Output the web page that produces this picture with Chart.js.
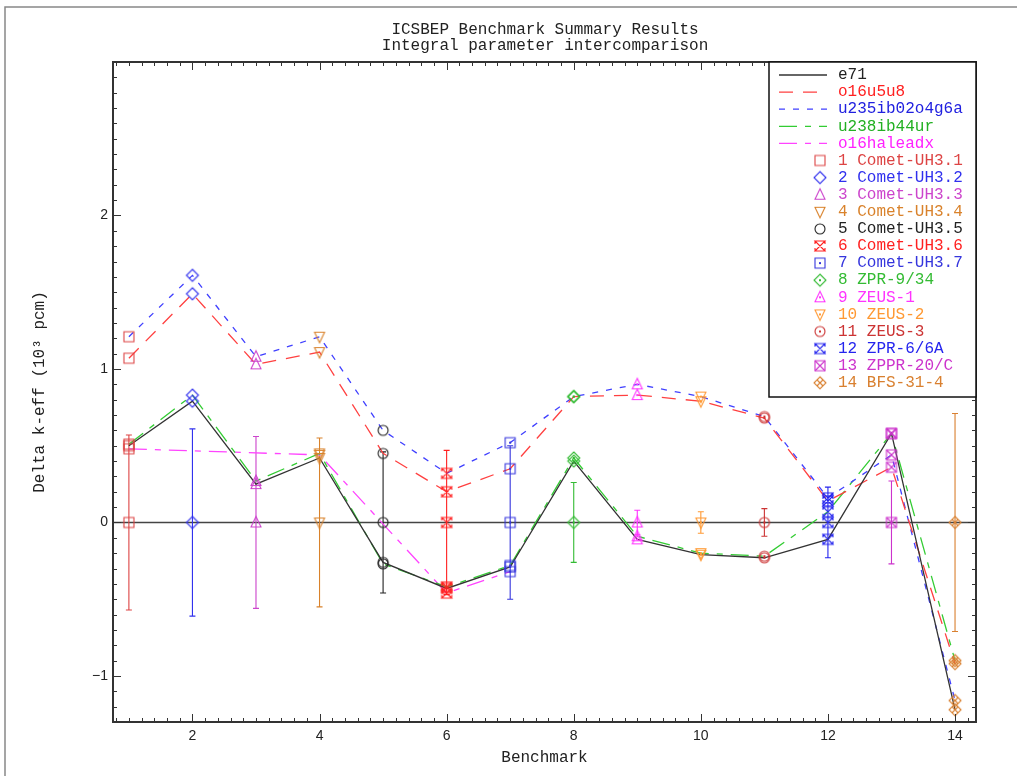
<!DOCTYPE html>
<html>
<head>
<meta charset="utf-8">
<title>ICSBEP Benchmark Summary Results</title>
<script src="https://cdn.jsdelivr.net/npm/chart.js@4.4.1/dist/chart.umd.min.js"></script>
<style>
  html, body { margin: 0; padding: 0; background: #fff; }
  #wrap { width: 1017px; height: 776px; position: relative; }
</style>
</head>
<body>
<div id="wrap"><canvas id="chart"></canvas></div>
<script>
// Benchmarks (x = index 1..14)
const benchX = [1, 2, 3, 4, 5, 6, 7, 8, 9, 10, 11, 12, 13, 14];
const benchNames = ['Comet-UH3.1', 'Comet-UH3.2', 'Comet-UH3.3', 'Comet-UH3.4', 'Comet-UH3.5',
    'Comet-UH3.6', 'Comet-UH3.7', 'ZPR-9/34', 'ZEUS-1', 'ZEUS-2', 'ZEUS-3', 'ZPR-6/6A',
    'ZPPR-20/C', 'BFS-31-4'];
const benchColors = ['#dd4444', '#3030ee', '#cc44cc', '#d9822b', '#222222', '#ff2020', '#3535dd',
    '#33bb33', '#ff33ff', '#ff9933', '#cc3333', '#2424ee', '#cc33cc', '#d98030'];
const benchShapes = ['square', 'diamond', 'triangle', 'itriangle', 'circle', 'hourglass', 'squareDot',
    'diamondDot', 'triangleDot', 'itriangleDot', 'circleDot', 'hourglass', 'squareX', 'diamondPlus'];

// Experimental uncertainty (10^3 pcm), experiment plotted at 0
const expUnc = [0.57, 0.61, 0.56, 0.55, 0.46, 0.47, 0.50, 0.26, 0.08, 0.07, 0.09, 0.23, 0.27, 0.71];

// Calculated - experiment for each library (10^3 pcm)
const e71        = [0.50, 0.79, 0.25, 0.42, -0.26, -0.43, -0.29, 0.40, -0.11, -0.21, -0.23, -0.11, 0.58, -1.22];
const o16u5u8    = [1.07, 1.49, 1.03, 1.11, 0.45, 0.20, 0.35, 0.82, 0.83, 0.79, 0.68, 0.14, 0.36, -0.92];
const u235ib     = [1.21, 1.61, 1.08, 1.21, 0.60, 0.32, 0.52, 0.82, 0.90, 0.82, 0.69, 0.16, 0.44, -1.16];
const u238ib     = [0.51, 0.83, 0.27, 0.45, -0.27, -0.42, -0.28, 0.42, -0.09, -0.20, -0.22, 0.07, 0.58, -0.90];
const o16haleadx = [0.48, null, null, 0.44, null, -0.46, -0.32, null, null, null, null, null, null, null];

const libNames  = ['e71', 'o16u5u8', 'u235ib02o4g6a', 'u238ib44ur', 'o16haleadx'];
const libValues = [e71, o16u5u8, u235ib, u238ib, o16haleadx];
const libColors = ['#333333', '#ff4040', '#4040ff', '#33cc33', '#ff44ff'];
const libText   = ['#222222', '#ff2020', '#2020e0', '#22b022', '#ff22ff'];
const libDash   = [[], [14, 10], [6, 8], [18, 8, 6, 8], [18, 8, 6, 8]];

const xTicks = [2, 4, 6, 8, 10, 12, 14];
const yTicks = [-1, 0, 1, 2];

const MONO = '"Liberation Mono", "DejaVu Sans Mono", monospace';

// draw a marker into a small canvas so Chart.js can use it as pointStyle
function makeMarker(shape, color) {
    const c = document.createElement('canvas');
    c.width = 16; c.height = 16;
    const g = c.getContext('2d');
    g.strokeStyle = color;
    g.fillStyle = color;
    g.lineWidth = 1.1;
    g.translate(8, 8);
    const r = 5;
    const base = shape.replace(/Dot|X|Plus/, '');
    g.beginPath();
    if (base === 'square') {
        g.rect(-r, -r, 2 * r, 2 * r);
    } else if (base === 'diamond') {
        g.moveTo(0, -r - 1); g.lineTo(r + 1, 0); g.lineTo(0, r + 1); g.lineTo(-r - 1, 0); g.closePath();
    } else if (base === 'triangle') {
        g.moveTo(0, -r - 1); g.lineTo(r, r - 0.5); g.lineTo(-r, r - 0.5); g.closePath();
    } else if (base === 'itriangle') {
        g.moveTo(0, r + 1); g.lineTo(r, -r + 0.5); g.lineTo(-r, -r + 0.5); g.closePath();
    } else if (base === 'circle') {
        g.arc(0, 0, r, 0, Math.PI * 2);
    } else if (base === 'hourglass') {
        g.moveTo(-r, -r); g.lineTo(r, -r); g.lineTo(-r, r); g.lineTo(r, r); g.closePath();
        g.moveTo(-r, -r); g.lineTo(-r, -r + 3); g.moveTo(r, -r); g.lineTo(r, -r + 3);
        g.moveTo(-r, r); g.lineTo(-r, r - 3); g.moveTo(r, r); g.lineTo(r, r - 3);
    }
    g.stroke();
    if (shape.endsWith('Dot')) {
        g.fillRect(-1, -1, 2, 2);
    }
    if (shape === 'squareX') {
        g.beginPath();
        g.moveTo(-r, -r); g.lineTo(r, r); g.moveTo(r, -r); g.lineTo(-r, r);
        g.stroke();
    }
    if (shape === 'diamondPlus') {
        g.beginPath();
        g.moveTo(-3, -3); g.lineTo(3, 3); g.moveTo(3, -3); g.lineTo(-3, 3);
        g.stroke();
    }
    return c;
}

const markers = benchShapes.map((s, i) => makeMarker(s, benchColors[i]));

// line datasets, one per library
const lineSets = libNames.map((name, k) => ({
    label: name,
    data: benchX.map((x, i) => ({ x: x, y: libValues[k][i] })),
    showLine: true,
    spanGaps: true,
    borderColor: libColors[k],
    borderWidth: 1.3,
    borderDash: libDash[k],
    pointRadius: 0,
    order: 2
}));

// marker datasets, one per benchmark: experiment at 0 plus every library value
const markerSets = benchX.map((x, i) => {
    const pts = [{ x: x, y: 0 }];
    libValues.forEach(v => { if (v[i] !== null) pts.push({ x: x, y: v[i] }); });
    return {
        label: benchNames[i],
        data: pts,
        showLine: false,
        pointStyle: markers[i],
        pointRadius: 6,
        order: 1
    };
});

const framePlugin = {
    id: 'frame',
    beforeDraw(chart) {
        const g = chart.ctx;
        g.save();
        g.strokeStyle = '#888';
        g.lineWidth = 1.5;
        g.beginPath();
        g.moveTo(5, 776); g.lineTo(5, 7); g.lineTo(1017, 7);
        g.stroke();
        // title
        g.fillStyle = '#222';
        g.font = '16px ' + MONO;
        g.textAlign = 'center';
        g.textBaseline = 'middle';
        g.fillText('ICSBEP Benchmark Summary Results', 545, 30);
        g.fillText('Integral parameter intercomparison', 545, 46);
        g.restore();
    },
    beforeDatasetsDraw(chart) {
        const g = chart.ctx, a = chart.chartArea;
        const xs = chart.scales.x, ys = chart.scales.y;
        g.save();
        // zero line
        g.strokeStyle = '#444';
        g.lineWidth = 1.5;
        g.beginPath();
        g.moveTo(a.left, ys.getPixelForValue(0));
        g.lineTo(a.right, ys.getPixelForValue(0));
        g.stroke();
        // experimental error bars
        g.lineWidth = 1.1;
        benchX.forEach((x, i) => {
            const px = xs.getPixelForValue(x);
            const y1 = ys.getPixelForValue(expUnc[i]);
            const y2 = ys.getPixelForValue(-expUnc[i]);
            g.strokeStyle = benchColors[i];
            g.beginPath();
            g.moveTo(px, y1); g.lineTo(px, y2);
            g.moveTo(px - 3, y1); g.lineTo(px + 3, y1);
            g.moveTo(px - 3, y2); g.lineTo(px + 3, y2);
            g.stroke();
        });
        g.restore();
    },
    afterDatasetsDraw(chart) {
        const g = chart.ctx, a = chart.chartArea;
        const xs = chart.scales.x, ys = chart.scales.y;
        g.save();
        g.strokeStyle = '#333';
        g.lineWidth = 1;
        g.beginPath();
        // minor/major ticks, inward on all four sides
        for (let v = Math.ceil(xs.min * 5) / 5; v <= xs.max + 1e-9; v += 0.2) {
            const px = Math.round(xs.getPixelForValue(v)) + 0.5;
            const major = Math.abs(v / 2 - Math.round(v / 2)) < 1e-6;
            const len = major ? 8 : 4;
            g.moveTo(px, a.bottom); g.lineTo(px, a.bottom - len);
            g.moveTo(px, a.top); g.lineTo(px, a.top + len);
        }
        for (let v = Math.ceil(ys.min * 10) / 10; v <= ys.max + 1e-9; v += 0.1) {
            const py = Math.round(ys.getPixelForValue(v)) + 0.5;
            const major = Math.abs(v - Math.round(v)) < 1e-6;
            const len = major ? 8 : 4;
            g.moveTo(a.left, py); g.lineTo(a.left + len, py);
            g.moveTo(a.right, py); g.lineTo(a.right - len, py);
        }
        g.stroke();
        g.lineWidth = 2;
        g.strokeRect(a.left, a.top, a.right - a.left, a.bottom - a.top);
        g.restore();
    },
    afterDraw(chart) {
        const g = chart.ctx, a = chart.chartArea;
        const bx = 769, by = a.top, bw = a.right - 769, bh = 397 - a.top;
        g.save();
        g.fillStyle = '#fff';
        g.fillRect(bx, by, bw, bh);
        g.strokeStyle = '#111';
        g.lineWidth = 1.5;
        g.strokeRect(bx, by, bw, bh);
        g.font = '16px ' + MONO;
        g.textBaseline = 'middle';
        g.textAlign = 'left';
        const rowY = k => 75 + k * 17.1;
        libNames.forEach((name, k) => {
            const y = rowY(k);
            g.strokeStyle = libColors[k];
            g.lineWidth = 1.3;
            g.setLineDash(libDash[k]);
            g.beginPath();
            g.moveTo(779, y); g.lineTo(827, y);
            g.stroke();
            g.setLineDash([]);
            g.fillStyle = libText[k];
            g.fillText(name, 838, y);
        });
        benchNames.forEach((name, i) => {
            const y = rowY(i + libNames.length);
            g.drawImage(markers[i], 820 - 8, y - 8);
            g.fillStyle = benchColors[i];
            g.fillText((i + 1) + ' ' + name, 838, y);
        });
        g.restore();
    }
};

new Chart(document.getElementById('chart'), {
    type: 'scatter',
    data: { datasets: [...lineSets, ...markerSets] },
    options: {
        responsive: true,
        maintainAspectRatio: false,
        devicePixelRatio: 1,
        animation: false,
        layout: { padding: { top: 62, right: 41, left: 0, bottom: 0 } },
        plugins: {
            legend: { display: false },
            tooltip: { enabled: false },
            title: { display: false }
        },
        scales: {
            x: {
                type: 'linear',
                min: 0.75,
                max: 14.33,
                grid: { display: false, drawTicks: false },
                border: { display: false },
                afterBuildTicks: s => { s.ticks = xTicks.map(v => ({ value: v })); },
                afterFit: s => { s.height = 54; },
                ticks: {
                    color: '#222',
                    padding: 6,
                    font: { family: '"Liberation Sans", Arial, sans-serif', size: 14 }
                },
                title: {
                    display: true,
                    text: 'Benchmark',
                    color: '#222',
                    font: { family: MONO, size: 16 },
                    padding: { top: 0, bottom: 9 }
                }
            },
            y: {
                type: 'linear',
                min: -1.3,
                max: 3.0,
                grid: { display: false, drawTicks: false },
                border: { display: false },
                afterBuildTicks: s => { s.ticks = yTicks.map(v => ({ value: v })); },
                afterFit: s => { s.width = 113; },
                ticks: {
                    color: '#222',
                    padding: 5,
                    font: { family: '"Liberation Sans", Arial, sans-serif', size: 14 },
                    callback: v => (v < 0 ? '\u2212' + Math.abs(v) : String(v))
                },
                title: {
                    display: true,
                    text: 'Delta k-eff (10\u00b3 pcm)',
                    color: '#222',
                    font: { family: MONO, size: 16 },
                    padding: { top: 30, bottom: 0 }
                }
            }
        }
    },
    plugins: [framePlugin]
});
</script>
</body>
</html>
